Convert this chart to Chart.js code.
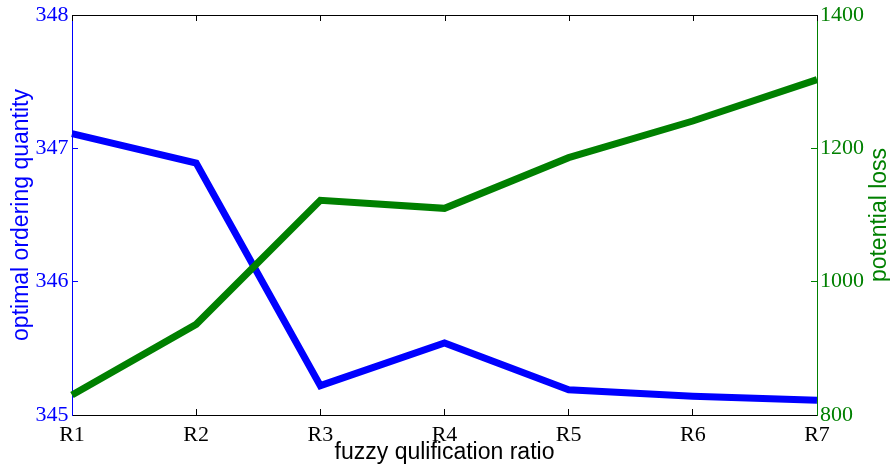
<!DOCTYPE html>
<html>
<head>
<meta charset="utf-8">
<script src="https://cdn.jsdelivr.net/npm/chart.js@4/dist/chart.umd.min.js"></script>
<style>
  html, body { margin: 0; padding: 0; background: #fff; }
  #wrap { width: 890px; height: 468px; }
</style>
</head>
<body>
<div id="wrap"><canvas id="myChart" width="890" height="468"></canvas></div>
<script>
// data
const categories = ["R1", "R2", "R3", "R4", "R5", "R6", "R7"];
const orderQty = [347.11, 346.89, 345.22, 345.54, 345.19, 345.14, 345.11];
const potentialLoss = [830, 936, 1122, 1110, 1186, 1241, 1303];
const leftTicks = [345, 346, 347, 348];
const rightTicks = [800, 1000, 1200, 1400];

const serif = "'Liberation Serif', 'Times New Roman', serif";
const sans = "'Liberation Sans', Arial, sans-serif";

// top border + top ticks, and the right axis title (reads bottom to top)
const extras = {
  id: "extras",
  afterDraw(chart) {
    const c = chart.ctx;
    const area = chart.chartArea;
    const x = chart.scales.x;
    c.save();
    c.strokeStyle = "#000";
    c.lineWidth = 1;
    c.beginPath();
    c.moveTo(area.left, area.top + 0.5);
    c.lineTo(area.right, area.top + 0.5);
    categories.forEach((cat, i) => {
      const px = Math.round(x.getPixelForValue(i)) + 0.5;
      c.moveTo(px, area.top);
      c.lineTo(px, area.top + 6);
    });
    c.stroke();

    c.translate(880, (area.top + area.bottom) / 2);
    c.rotate(-Math.PI / 2);
    c.fillStyle = "#008000";
    c.font = "23px " + sans;
    c.textAlign = "center";
    c.textBaseline = "middle";
    c.fillText("potential loss", 0, 0);
    c.restore();
  }
};

const ctx = document.getElementById("myChart");

new Chart(ctx, {
  type: "line",
  data: {
    labels: categories,
    datasets: [
      {
        label: "potential loss",
        data: potentialLoss,
        yAxisID: "y1",
        borderColor: "#008000",
        borderWidth: 7,
        pointRadius: 0,
        tension: 0,
        order: 0
      },
      {
        label: "optimal ordering quantity",
        data: orderQty,
        yAxisID: "y",
        borderColor: "#0000ff",
        borderWidth: 7,
        pointRadius: 0,
        tension: 0,
        order: 1
      }
    ]
  },
  options: {
    responsive: false,
    animation: false,
    layout: { padding: { top: 15, left: 0, right: 0, bottom: 0 } },
    plugins: {
      legend: { display: false },
      tooltip: { enabled: false }
    },
    scales: {
      x: {
        offset: false,
        afterFit: (s) => { s.height = 53; s.paddingLeft = 0; s.paddingRight = 0; },
        grid: { drawOnChartArea: false, tickLength: -6, color: "#000" },
        border: { color: "#000" },
        ticks: {
          color: "#000",
          padding: 13,
          maxRotation: 0,
          autoSkip: false,
          font: { family: serif, size: 22 }
        },
        title: {
          display: true,
          text: "fuzzy qulification ratio",
          color: "#000",
          font: { family: sans, size: 23 },
          padding: { top: 0, bottom: 2 }
        }
      },
      y: {
        position: "left",
        min: 345,
        max: 348,
        afterFit: (s) => { s.width = 72; s.paddingTop = 0; s.paddingBottom = 0; },
        afterBuildTicks: (s) => { s.ticks = leftTicks.map((v) => ({ value: v })); },
        grid: { drawOnChartArea: false, tickLength: -6, color: "#0000ff" },
        border: { color: "#0000ff" },
        ticks: {
          color: "#0000ff",
          padding: 9.5,
          callback: (v) => String(v),
          font: { family: serif, size: 22 }
        },
        title: {
          display: true,
          text: "optimal ordering quantity",
          color: "#0000ff",
          font: { family: sans, size: 23 },
          padding: { top: 8, bottom: 0 }
        }
      },
      y1: {
        position: "right",
        min: 800,
        max: 1400,
        afterFit: (s) => { s.width = 73; s.paddingTop = 0; s.paddingBottom = 0; },
        afterBuildTicks: (s) => { s.ticks = rightTicks.map((v) => ({ value: v })); },
        grid: { drawOnChartArea: false, tickLength: -6, color: "#008000" },
        border: { color: "#008000" },
        ticks: {
          color: "#008000",
          padding: 9,
          callback: (v) => String(v),
          font: { family: serif, size: 22 }
        }
      }
    }
  },
  plugins: [extras]
});
</script>
</body>
</html>
